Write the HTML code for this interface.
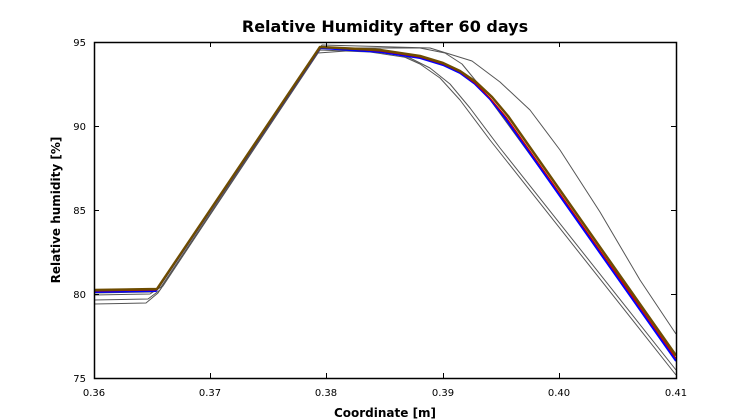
<!DOCTYPE html>
<html><head><style>body{margin:0;background:#fff}svg{display:block}text{font-family:"DejaVu Sans",sans-serif}</style></head><body>
<svg width="750" height="420" viewBox="0 0 750 420">
<rect width="750" height="420" fill="#fff"/>
<g fill="none" stroke-linejoin="round">
<g stroke="#fff" stroke-width="3">
<polyline points="94,304 146,303 158,293 318,53 360,50 400,55 420,64 440,78 460,100 490,140 676,375"/>
<polyline points="94,300 148,299 160,290 320,50 370,52 410,58 430,68 450,84 470,108 500,148 676,370"/>
<polyline points="94,295 150,294 161,287 321,48 420,48 445,53 462,64 480,86 676,355"/>
<polyline points="94,293 152,292 163,286 322,45 430,48 472,61 500,82 530,110 560,150 600,212 640,280 676,334"/>
</g>
<g stroke="#555" stroke-width="1">
<polyline points="94,304 146,303 158,293 318,53 360,50 400,55 420,64 440,78 460,100 490,140 676,375"/>
<polyline points="94,300 148,299 160,290 320,50 370,52 410,58 430,68 450,84 470,108 500,148 676,370"/>
<polyline points="94,295 150,294 161,287 321,48 420,48 445,53 462,64 480,86 676,355"/>
<polyline points="94,293 152,292 163,286 322,45 430,48 472,61 500,82 530,110 560,150 600,212 640,280 676,334"/>
</g>
<polyline stroke="#00f" stroke-width="2" points="94,292 156,291 320,48 380,52 420,58 443,65 460,73 475,84 490,99 505,118 676,361"/>
<polyline stroke="#c00" stroke-width="1.2" points="94,291 156,290 320,47 380,51 420,57 443,64 460,72 475,83 490,98 506,117 676,358.5"/>
<polyline stroke="#6e4c00" stroke-width="2.5" points="94,290 157,289 320,47 380,50 420,56 443,63 460,71 476,82 492,97 508,116 676,355.5"/>
</g>
<rect x="94.5" y="42.5" width="582" height="336" fill="none" stroke="#000" stroke-width="1.5"/>
<g stroke="#000" stroke-width="1">
<path d="M210.5,42v5M326.5,42v5M443.5,42v5M559.5,42v5M210.5,378v-5M326.5,378v-5M443.5,378v-5M559.5,378v-5M94,126.5h5M94,210.5h5M94,294.5h5M676,126.5h-5M676,210.5h-5M676,294.5h-5"/>
</g>
<g font-size="10" fill="#000" text-anchor="middle">
<text x="94" y="396">0.36</text><text x="210" y="396">0.37</text><text x="326" y="396">0.38</text><text x="443" y="396">0.39</text><text x="559" y="396">0.40</text><text x="676" y="396">0.41</text>
</g>
<g font-size="10" fill="#000" text-anchor="end">
<text x="86" y="46">95</text><text x="86" y="130">90</text><text x="86" y="214">85</text><text x="86" y="298">80</text><text x="86" y="382">75</text>
</g>
<text x="385" y="32" font-size="16" font-weight="bold" text-anchor="middle">Relative Humidity after 60 days</text>
<text x="385" y="417" font-size="12" font-weight="bold" text-anchor="middle">Coordinate [m]</text>
<text transform="translate(60,210) rotate(-90)" font-size="12" font-weight="bold" text-anchor="middle">Relative humidity [%]</text>
</svg>
</body></html>
